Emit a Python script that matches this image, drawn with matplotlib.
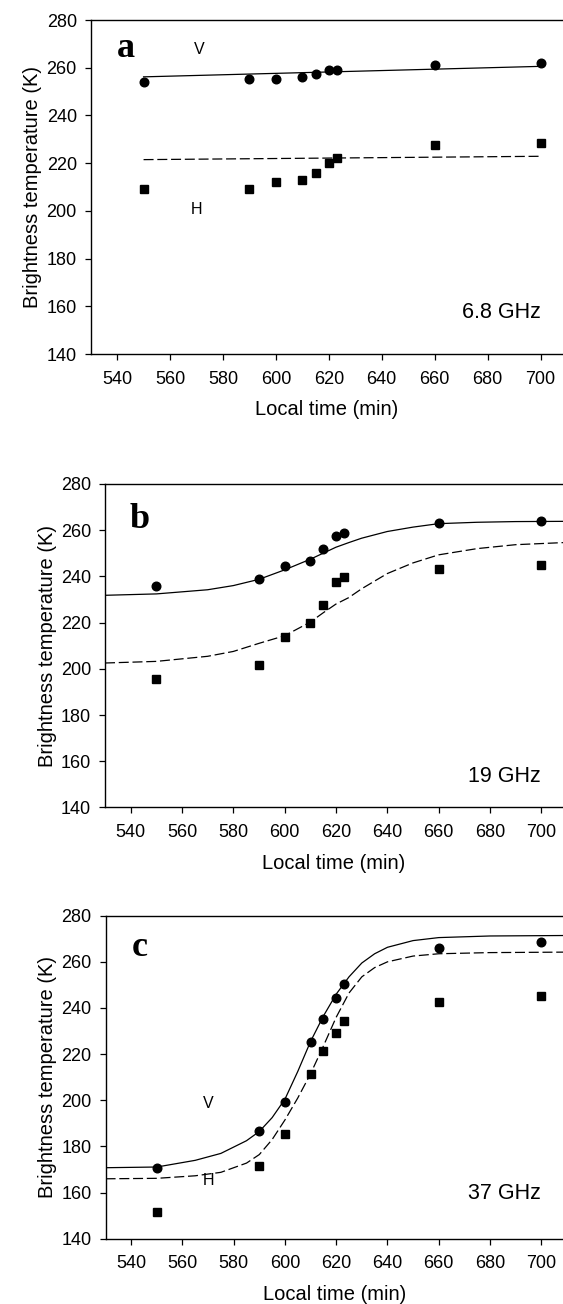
import matplotlib
matplotlib.use('Agg')
import matplotlib.pyplot as plt

plt.rcParams['font.family'] = ['Liberation Sans', 'DejaVu Sans']

# Observation times (min)
time_min = [550, 590, 600, 610, 615, 620, 623, 660, 700]

# (a) 6.8 GHz
a_v = [254.0, 255.1, 255.1, 256.1, 257.2, 259.2, 259.2, 261.3, 262.2]
a_h = [209.0, 209.0, 212.2, 213.1, 216.0, 220.0, 222.2, 227.5, 228.4]
a_fit_x = [550, 700]
a_v_fit = [256.2, 260.6]
a_h_fit = [221.5, 222.9]

# (b) 19 GHz
b_v = [235.8, 238.7, 244.6, 246.8, 251.7, 257.6, 258.8, 263.0, 264.0]
b_h = [195.7, 201.8, 213.9, 219.8, 227.8, 237.7, 239.6, 243.1, 244.9]
b_fit_x = [530, 550, 570, 580, 590, 600, 610, 615, 620, 625, 630, 640, 650, 660, 675, 690, 708.5]
b_v_fit = [231.8, 232.4, 234.2, 236.0, 238.7, 242.8, 247.4, 250.0, 252.6, 254.6, 256.5,
           259.4, 261.3, 262.8, 263.4, 263.7, 263.8]
b_h_fit = [202.5, 203.2, 205.4, 207.5, 211.0, 214.3, 220.2, 224.2, 228.0, 230.8, 234.6,
           241.2, 245.8, 249.3, 252.0, 253.7, 254.6]

# (c) 37 GHz
c_v = [170.7, 186.5, 199.4, 225.3, 235.3, 244.2, 250.3, 265.8, 268.6]
c_h = [151.7, 171.6, 185.5, 211.2, 221.2, 229.1, 234.3, 242.4, 245.2]
c_fit_x = [530, 550, 565, 575, 585, 590, 595, 600, 605, 610, 615, 620, 625, 630, 635,
           640, 650, 660, 680, 708.5]
c_v_fit = [170.8, 171.1, 174.0, 177.0, 182.5, 186.5, 192.5, 200.5, 212.5, 225.5, 236.5,
           246.0, 253.5, 259.5, 263.5, 266.3, 269.2, 270.5, 271.2, 271.4]
c_h_fit = [166.0, 166.2, 167.3, 168.8, 172.8, 176.5, 183.0, 191.5, 201.0, 211.5, 223.5,
           236.0, 246.5, 253.5, 257.5, 260.0, 262.5, 263.5, 264.0, 264.2]

xticks = [540, 560, 580, 600, 620, 640, 660, 680, 700]
yticks = [140, 160, 180, 200, 220, 240, 260, 280]

fig = plt.figure(figsize=(5.63, 13.04), dpi=100)

panels = [
    # rect, letter, freq, v, h, fit x, v fit, h fit, letter y, freq y
    ([0.161, 0.7285, 0.839, 0.2561], 'a', '6.8 GHz', a_v, a_h, a_fit_x, a_v_fit, a_h_fit, 268.2, 157.3),
    ([0.1865, 0.3808, 0.8135, 0.2481], 'b', '19 GHz', b_v, b_h, b_fit_x, b_v_fit, b_h_fit, 264.4, 153.3),
    ([0.1875, 0.0500, 0.8125, 0.2478], 'c', '37 GHz', c_v, c_h, c_fit_x, c_v_fit, c_h_fit, 266.0, 159.6),
]

axes = []
for rect, letter, freq, v, h, fx, vfit, hfit, ly, fy in panels:
    ax = fig.add_axes(rect)
    ax.plot(fx, vfit, color='black', lw=0.9)
    ax.plot(fx, hfit, color='black', lw=0.9, dashes=(8, 3))
    ax.plot(time_min, v, 'o', color='black', ms=6.2)
    ax.plot(time_min, h, 's', color='black', ms=5.6)

    ax.set_xlim(530, 708.5)
    ax.set_ylim(140, 280)
    ax.set_xticks(xticks)
    ax.set_yticks(yticks)
    ax.tick_params(direction='out', length=4, width=0.9, labelsize=13)
    ax.tick_params(axis='x', pad=8)
    ax.tick_params(axis='y', pad=6)
    ax.spines['right'].set_visible(False)
    for s in ['left', 'top', 'bottom']:
        ax.spines[s].set_linewidth(1.0)

    ax.set_xlabel('Local time (min)', fontsize=14.5, labelpad=9)
    ax.set_ylabel('Brightness temperature (K)', fontsize=14.5, labelpad=3)

    ax.text(543.5, ly, letter, family=['Liberation Serif', 'DejaVu Serif'],
            fontweight='bold', fontsize=26, ha='center', va='center')
    ax.text(700, fy, freq, fontsize=15.5, ha='right', va='center')
    axes.append(ax)

# polarisation labels
axes[0].text(571, 267.7, 'V', fontsize=11.5, ha='center', va='center')
axes[0].text(570, 200.5, 'H', fontsize=11.5, ha='center', va='center')
axes[2].text(570, 198.7, 'V', fontsize=11.5, ha='center', va='center')
axes[2].text(570, 165.3, 'H', fontsize=11.5, ha='center', va='center')

fig.savefig('out.png', dpi=100)
